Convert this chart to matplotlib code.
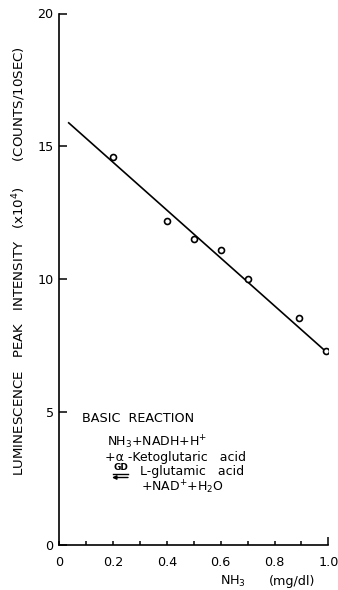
import matplotlib
matplotlib.use("Agg")
import matplotlib.pyplot as plt
import numpy as np

# Measured points: NH3 concentration (mg/dl) vs luminescence peak (x10^4 counts / 10 s)
nh3 = [0.20, 0.40, 0.50, 0.60, 0.70, 0.89, 0.99]
intensity = [14.6, 12.2, 11.5, 11.1, 10.0, 8.55, 7.3]

# Fitted calibration line
fit_intercept = 16.2
fit_slope = -9.0
fit_range = [0.035, 0.99]

x_major = [0, 0.2, 0.4, 0.6, 0.8, 1.0]
x_major_labels = ["0", "0.2", "0.4", "0.6", "0.8", "1.0"]
x_minor = [0.1, 0.3, 0.5, 0.7, 0.9]
y_major = [0, 5, 10, 15, 20]
y_major_labels = ["0", "5", "10", "15", "20"]

W, H = 338, 590
fig = plt.figure(figsize=(W / 100, H / 100), dpi=100)
plt.rcParams["font.family"] = ["DejaVu Sans"]

def fx(px):
    return px / W

def fy(py):
    return 1 - py / H

ax = fig.add_axes([fx(59.3), fy(545), fx(328.3) - fx(59.3), fy(13.5) - fy(545)])
ax.set_xlim(0, 1.0)
ax.set_ylim(0, 20)
for s in ("top", "right"):
    ax.spines[s].set_visible(False)
for s in ("left", "bottom"):
    ax.spines[s].set_linewidth(1.2)

ax.set_xticks(x_major)
ax.set_xticklabels(x_major_labels)
ax.set_xticks(x_minor, minor=True)
ax.set_yticks(y_major)
ax.set_yticklabels(y_major_labels)
ax.tick_params(axis="x", which="both", direction="in", length=3, width=1.1,
               pad=8, labelsize=9.2)
ax.tick_params(axis="y", which="major", direction="in", length=6, width=1.1,
               pad=4, labelsize=9.2)
# the end of the concentration axis carries a taller tick
ax.xaxis.get_major_ticks()[-1].tick1line.set_markersize(6)

xf = np.array(fit_range)
ax.plot(xf, fit_intercept + fit_slope * xf, color="black", lw=1.2, zorder=2)
ax.plot(nh3, intensity, linestyle="none", marker="o", markersize=4.3,
        markerfacecolor="white", markeredgecolor="black", markeredgewidth=1.2,
        zorder=3)

# Axis titles
fig.text(fx(220), fy(581), r"NH$_3$", fontsize=9.2, va="center", ha="left")
fig.text(fx(269), fy(581), "(mg/dl)", fontsize=9.2, va="center", ha="left")
fig.text(fx(19), fy(261),
         r"LUMINESCENCE   PEAK   INTENSITY   (x10$^4$)      (COUNTS/10SEC)",
         fontsize=9.6, rotation=90, va="center", ha="center")

# Reaction scheme
fig.text(fx(82), fy(418), "BASIC  REACTION", fontsize=9.2, va="center", ha="left")
fig.text(fx(107), fy(442), r"NH$_3$+NADH+H$^{+}$", fontsize=9.0,
         va="center", ha="left")
fig.text(fx(105), fy(457), "+α -Ketoglutaric   acid", fontsize=9.0,
         va="center", ha="left")
fig.text(fx(113), fy(468), "GD", fontsize=6.5, va="center", ha="left",
         fontweight="bold")
fig.add_artist(plt.Line2D([fx(113), fx(128)], [fy(473.5), fy(473.5)],
                          color="black", lw=1.0, transform=fig.transFigure))
ax.annotate("", xy=(fx(112), fy(477.5)), xytext=(fx(128), fy(477.5)),
            xycoords="figure fraction", textcoords="figure fraction",
            arrowprops=dict(arrowstyle="-|>", color="black", lw=1.0,
                            mutation_scale=6, shrinkA=0, shrinkB=0))
fig.text(fx(140), fy(472), "L-glutamic   acid", fontsize=9.0, va="center", ha="left")
fig.text(fx(141), fy(487), r"+NAD$^{+}$+H$_2$O", fontsize=9.0,
         va="center", ha="left")

fig.savefig("out.png", dpi=100)
